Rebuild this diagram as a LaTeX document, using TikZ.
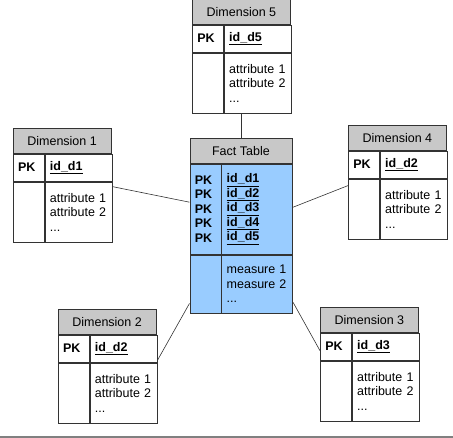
\documentclass[tikz,border=0pt]{standalone}
\usepackage{fontspec}
\setmainfont{Liberation Sans}
\usetikzlibrary{positioning}
\definecolor{headgray}{RGB}{200,200,200}
\definecolor{factblue}{RGB}{153,204,255}

\begin{document}
\begin{tikzpicture}
    \tikzset{x=1pt,y=-1pt,link/.style={draw=black!80,line width=0.6pt},
      cell/.style={draw=black!80,line width=0.8pt,inner xsep=5pt,inner ysep=0pt,anchor=north west,
                   font=\fontsize{12.5}{14.5}\selectfont},
      head/.style={cell,fill=headgray,minimum height=25pt,align=center},
      keycol/.style={cell,text width=21pt,align=left},
      valcol/.style={cell,text width=#1,align=left},
      valcol/.default=57pt}
    \useasboundingbox (0,0) rectangle (453,438);
%   dimension tables
      \foreach \n/\x/\y/\k in {5/192/-1/5,1/12.7/128/1,4/348/125/2,2/57.7/309/2,3/320/307/3}
       { \node [head,minimum width=98pt]   (dim\n) at (\x,\y)  {Dimension \n};
         \node [keycol,minimum height=27pt] (pk\n) at (dim\n.south west) {\textbf{PK}};
         \node [valcol,minimum height=27pt] (key\n) at (pk\n.north east) {\underline{\textbf{id\_d\k}}};
         \node [keycol,minimum height=60pt] (bl\n) at (pk\n.south west) {};
         \node [valcol,minimum height=60pt] (attr\n) at (bl\n.north east) {attribute 1\\attribute 2\\...};
       }
%   fact table
    \node [head,minimum width=102pt] (fact) at (189.5,138) {Fact Table};
    \node [keycol,fill=factblue,minimum height=90pt] (fpk) at (fact.south west)
          {\textbf{PK}\\\textbf{PK}\\\textbf{PK}\\\textbf{PK}\\\textbf{PK}};
    \node [valcol=61pt,fill=factblue,minimum height=90pt] (fkey) at (fpk.north east)
          {\underline{\textbf{id\_d1}}\\\underline{\textbf{id\_d2}}\\\underline{\textbf{id\_d3}}\\\underline{\textbf{id\_d4}}\\\underline{\textbf{id\_d5}}};
    \node [keycol,fill=factblue,minimum height=58pt] (fbl) at (fpk.south west) {};
    \node [valcol=61pt,fill=factblue,minimum height=58pt] (fmeas) at (fbl.north east) {measure 1\\measure 2\\...};
%   links
    \draw [link] (fact.north |- attr5.south) -- (fact.north);
    \draw [link] ([yshift=-5pt]attr1.north east) -- ([yshift=7pt]fpk.west);
    \draw [link] ([yshift=2pt]fkey.east) -- ([yshift=-7pt]bl4.north west);
    \draw [link] ([yshift=10pt]fbl.south west) -- ([yshift=2pt]key2.south east);
    \draw [link] ([yshift=11pt]fmeas.south east) -- ([yshift=-4pt]pk3.west);
    \draw [gray,line width=2pt] (0,437) -- (453,437);
\end{tikzpicture}
\end{document}
